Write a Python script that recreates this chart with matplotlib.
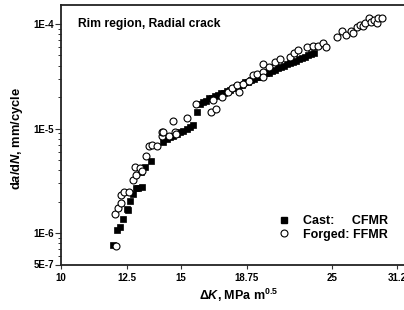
import matplotlib
matplotlib.use("Agg")
import matplotlib.pyplot as plt
from matplotlib.ticker import FixedLocator, NullLocator, LogLocator, NullFormatter
from matplotlib.lines import Line2D

plt.rcParams['font.family'] = ['Liberation Sans', 'DejaVu Sans']
plt.rcParams['font.weight'] = 'bold'
plt.rcParams['mathtext.fontset'] = 'custom'
plt.rcParams['mathtext.rm'] = 'Liberation Sans:bold'
plt.rcParams['mathtext.it'] = 'Liberation Sans:bold:italic'
plt.rcParams['mathtext.bf'] = 'Liberation Sans:bold'

# ---- data ----
cast_dK = [11.93, 12.08, 12.21, 12.35, 12.49, 12.54, 12.63, 12.77, 12.88, 12.99, 13.14,
           13.11, 13.29, 13.55, 14.11, 14.30, 14.46, 14.60, 14.80, 14.96, 15.13, 15.30,
           15.48, 15.65, 15.84, 16.01, 16.17, 16.34, 16.51, 16.68, 16.85, 17.02, 17.19,
           17.37, 17.54, 17.72, 17.90, 18.09, 18.27, 18.46, 18.65, 18.84, 19.03, 19.22,
           19.42, 19.62, 19.82, 20.02, 20.23, 20.43, 20.64, 20.85, 21.06, 21.28, 21.49,
           21.71, 21.94, 22.16, 22.39, 22.62, 22.85, 23.08, 23.32, 23.56]
cast_dadn = [7.67e-7, 1.08e-6, 1.15e-6, 1.36e-6, 1.70e-6, 1.67e-6, 2.03e-6, 2.36e-6, 2.71e-6,
             2.71e-6, 2.73e-6, 3.80e-6, 4.25e-6, 4.85e-6, 7.38e-6, 7.96e-6, 8.32e-6, 8.57e-6,
             8.95e-6, 9.21e-6, 9.57e-6, 9.93e-6, 1.03e-5, 1.07e-5, 1.43e-5, 1.70e-5, 1.80e-5,
             1.84e-5, 1.95e-5, 1.96e-5, 2.06e-5, 2.08e-5, 2.18e-5, 2.20e-5, 2.31e-5, 2.33e-5,
             2.45e-5, 2.47e-5, 2.60e-5, 2.62e-5, 2.76e-5, 2.78e-5, 2.93e-5, 2.95e-5, 3.10e-5,
             3.13e-5, 3.24e-5, 3.38e-5, 3.42e-5, 3.58e-5, 3.62e-5, 3.80e-5, 3.85e-5, 3.97e-5,
             4.10e-5, 4.22e-5, 4.35e-5, 4.45e-5, 4.60e-5, 4.72e-5, 4.88e-5, 5.02e-5, 5.18e-5,
             5.30e-5]

forged_dK = [12.05, 12.01, 12.14, 12.24, 12.24, 12.39, 12.59, 12.77, 12.89, 12.83, 13.07,
             13.14, 13.32, 13.47, 13.61, 13.83, 14.07, 14.07, 14.12, 14.41, 14.61, 14.71,
             14.74, 15.34, 15.80, 16.62, 16.90, 16.73, 17.23, 17.60, 17.84, 18.13, 18.27,
             18.52, 18.90, 19.16, 19.40, 19.80, 19.80, 19.81, 20.23, 20.64, 21.00, 21.71,
             22.00, 22.29, 23.03, 23.48, 23.87, 24.28, 24.53, 25.44, 25.88, 26.25, 26.67,
             26.91, 27.22, 27.52, 27.78, 28.00, 28.38, 28.54, 28.87, 29.13, 29.26, 29.63]
forged_dadn = [7.50e-7, 1.51e-6, 1.73e-6, 1.93e-6, 2.32e-6, 2.46e-6, 2.46e-6, 3.21e-6, 3.59e-6,
               4.25e-6, 4.19e-6, 3.95e-6, 5.50e-6, 6.76e-6, 6.97e-6, 6.76e-6, 8.43e-6, 9.36e-6,
               9.36e-6, 8.43e-6, 1.17e-5, 9.36e-6, 8.89e-6, 1.25e-5, 1.73e-5, 1.43e-5, 1.55e-5,
               1.86e-5, 2.00e-5, 2.23e-5, 2.46e-5, 2.59e-5, 2.23e-5, 2.69e-5, 2.83e-5, 3.24e-5,
               3.31e-5, 4.13e-5, 3.48e-5, 3.11e-5, 3.88e-5, 4.34e-5, 4.58e-5, 4.85e-5, 5.23e-5,
               5.62e-5, 6.05e-5, 6.18e-5, 6.14e-5, 6.52e-5, 6.05e-5, 7.55e-5, 8.62e-5, 7.84e-5,
               8.62e-5, 8.25e-5, 9.29e-5, 9.78e-5, 9.63e-5, 1.02e-4, 1.13e-4, 1.05e-4, 1.09e-4,
               1.02e-4, 1.13e-4, 1.15e-4]

x_ticks = [10, 12.5, 15, 18.75, 25, 31.2]
x_ticklabels = ['10', '12.5', '15', '18.75', '25', '31.2']
y_ticks = [5e-7, 1e-6, 1e-5, 1e-4]
y_ticklabels = ['5E-7', '1E-6', '1E-5', '1E-4']

# ---- figure ----
W, H = 404, 310
fig = plt.figure(figsize=(W / 100, H / 100), dpi=100)
left, right, top, bottom = 61, 404 + 4, 5, 264.5
ax = fig.add_axes([left / W, (H - bottom) / H, (right - left) / W, (bottom - top) / H])

ax.set_xscale('log')
ax.set_yscale('log')

ax.plot(cast_dK, cast_dadn, linestyle='none', marker='s', ms=4.4, mfc='black',
        mec='black', mew=0.5)
ax.plot(forged_dK, forged_dadn, linestyle='none', marker='o', ms=5.0, mfc='white',
        mec='black', mew=0.8)

kmax = 10 * 10 ** ((right - left) / 680)
ax.set_xlim(10, kmax)
ax.set_ylim(5e-7, 1.52e-4)

ax.xaxis.set_major_locator(FixedLocator(x_ticks))
ax.xaxis.set_minor_locator(NullLocator())
ax.set_xticklabels(x_ticklabels)
ax.yaxis.set_major_locator(FixedLocator(y_ticks))
ax.yaxis.set_minor_locator(LogLocator(base=10, subs=range(2, 10)))
ax.yaxis.set_minor_formatter(NullFormatter())
ax.set_yticklabels(y_ticklabels)

ax.tick_params(axis='both', which='major', labelsize=7, direction='out', width=0.8,
               color='#333333')
ax.tick_params(axis='x', which='major', length=3, pad=3)
ax.tick_params(axis='y', which='major', length=4, pad=1)
ax.tick_params(axis='y', which='minor', length=2.2, width=0.7, color='#333333')
for lab in ax.get_xticklabels() + ax.get_yticklabels():
    lab.set_fontweight('bold')

for s in ['left', 'bottom', 'top']:
    ax.spines[s].set_linewidth(1.3)
    ax.spines[s].set_color('#222222')
ax.spines['right'].set_visible(False)

fig.text(78 / W, 1 - 24 / H, 'Rim region, Radial crack', fontsize=8.7, fontweight='bold',
         ha='left', va='center')

fig.text(17 / W, 1 - 138 / H, r'd$a$/d$N$, mm/cycle', rotation=90, fontsize=9.3,
         fontweight='bold', ha='center', va='center')
fig.text(239 / W, 1 - 295 / H, r'$\mathit{\Delta K}$, MPa m$^{0.5}$', fontsize=9,
         fontweight='bold', ha='center', va='center')

handles = [Line2D([], [], linestyle='none', marker='s', ms=4.4, mfc='black', mec='black'),
           Line2D([], [], linestyle='none', marker='o', ms=5.0, mfc='white', mec='black', mew=0.8)]
leg = ax.legend(handles, ['Cast:     CFMR', 'Forged: FFMR'], loc='center left',
                bbox_to_anchor=((278 - left) / (right - left), (bottom - 228) / (bottom - top)),
                frameon=False, handlelength=0.9, handletextpad=1.1, labelspacing=0.1,
                borderpad=0, borderaxespad=0, prop={'size': 9, 'weight': 'bold'})

fig.savefig('out.png', dpi=100)
